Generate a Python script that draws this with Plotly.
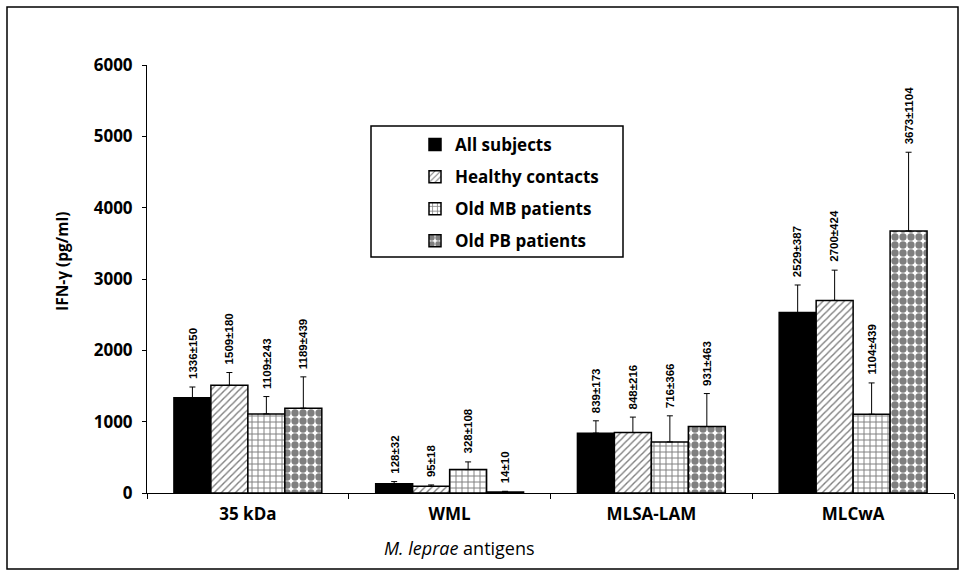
import plotly.graph_objects as go

categories = ["35 kDa", "WML", "MLSA-LAM", "MLCwA"]
series_names = ["All subjects", "Healthy contacts", "Old MB patients", "Old PB patients"]
all_subjects = [1336, 128, 839, 2529]
all_subjects_err = [150, 32, 173, 387]
healthy_contacts = [1509, 95, 848, 2700]
healthy_contacts_err = [180, 18, 216, 424]
old_mb = [1109, 328, 716, 1104]
old_mb_err = [243, 108, 366, 439]
old_pb = [1189, 14, 931, 3673]
old_pb_err = [439, 10, 463, 1104]
y_ticks = [0, 1000, 2000, 3000, 4000, 5000, 6000]

values = [all_subjects, healthy_contacts, old_mb, old_pb]
errors = [all_subjects_err, healthy_contacts_err, old_mb_err, old_pb_err]

patterns = [
    dict(shape=""),
    dict(shape="/", size=5, solidity=0.28, fgcolor="black", bgcolor="white"),
    dict(shape="+", size=6, solidity=0.3, fgcolor="black", bgcolor="white"),
    dict(shape=".", size=8, solidity=0.66, fgcolor="black", bgcolor="white"),
]

W, H = 965, 576
L, R, T, B = 147, 954, 65, 493
PW, PH = R - L, B - T
FONT = "Open Sans"

def px_x(x):
    return (x - L) / PW

def px_y(y):
    return (B - y) / PH

fig = go.Figure()
for name, vals, errs, pat in zip(series_names, values, errors, patterns):
    fig.add_trace(go.Bar(
        name=name,
        x=categories,
        y=vals,
        legendgroup=name,
        marker=dict(color="black" if pat["shape"] == "" else "white",
                    line=dict(color="black", width=1.5),
                    pattern=pat),
        error_y=dict(type="data", symmetric=False, array=errs,
                     arrayminus=[0] * len(errs), color="black",
                     thickness=1, width=3),
    ))

bargap = 0.267
nser = len(series_names)
bw = (1 - bargap) / nser
annotations = []
for j, (vals, errs) in enumerate(zip(values, errors)):
    for i, (v, e) in enumerate(zip(vals, errs)):
        annotations.append(dict(
            x=i + (j - (nser - 1) / 2) * bw, y=v + e, xref="x", yref="y",
            text=f"{v}±{e}", textangle=-90, showarrow=False,
            xanchor="center", yanchor="bottom", yshift=6,
            font=dict(family="Liberation Sans", size=11.5, color="black", weight="bold"),
        ))

annotations.append(dict(
    x=px_x(459), y=px_y(548), xref="paper", yref="paper",
    xanchor="center", yanchor="middle",
    text="<i>M. leprae</i> antigens", showarrow=False,
    font=dict(family=FONT, size=18, color="black"),
))
annotations.append(dict(
    x=px_x(62), y=px_y(262), xref="paper", yref="paper",
    xanchor="center", yanchor="middle",
    text="IFN-γ (pg/ml)", textangle=-90, showarrow=False,
    font=dict(family=FONT, size=15.5, color="black", weight="bold"),
))

shapes = [
    dict(type="rect", xref="paper", yref="paper",
         x0=px_x(371), x1=px_x(623), y0=px_y(257), y1=px_y(126),
         line=dict(color="black", width=1.5), fillcolor="white", layer="below"),
    dict(type="rect", xref="paper", yref="paper",
         x0=px_x(7), x1=px_x(958), y0=px_y(569), y1=px_y(7),
         line=dict(color="black", width=1.5), layer="below"),
]

fig.update_layout(
    width=W, height=H,
    margin=dict(l=L, r=W - R, t=T, b=H - B),
    paper_bgcolor="white", plot_bgcolor="rgba(0,0,0,0)",
    barmode="group", bargap=bargap, bargroupgap=0,
    showlegend=True,
    legend=dict(x=px_x(415), y=px_y(127), xanchor="left", yanchor="top",
                bgcolor="rgba(0,0,0,0)", borderwidth=0,
                traceorder="grouped", tracegroupgap=7,
                font=dict(family=FONT, size=17, color="black", weight="bold")),
    xaxis=dict(showline=True, linecolor="black", linewidth=1,
               ticks="outside", tickson="boundaries", ticklen=5, tickcolor="black",
               tickfont=dict(family=FONT, size=17, color="black", weight="bold"),
               showgrid=False, ticklabelstandoff=6),
    yaxis=dict(range=[0, 6000], tickvals=y_ticks, showline=True, linecolor="black",
               linewidth=1, ticks="outside", ticklen=4, tickcolor="black",
               tickfont=dict(family=FONT, size=17, color="black", weight="bold"),
               showgrid=False, zeroline=False, ticklabelstandoff=6),
    annotations=annotations,
    shapes=shapes,
)

fig.write_html(
    "out.html",
    config={"displayModeBar": False},
    post_script="document.body.style.margin='0';document.body.style.overflow='hidden';",
)
